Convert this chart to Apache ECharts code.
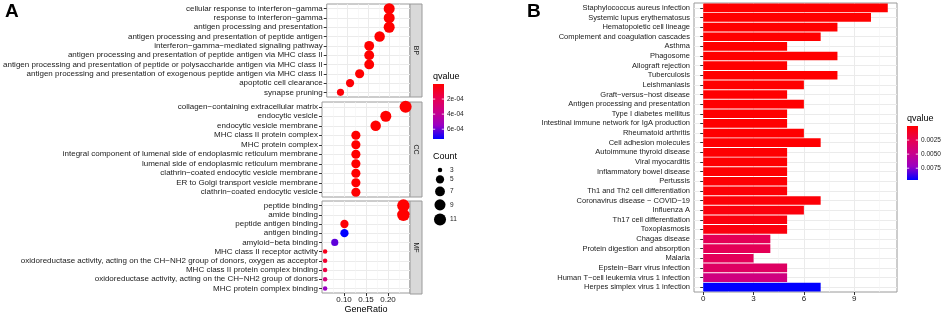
<!DOCTYPE html>
<html><head><meta charset="utf-8">
<script src="https://cdn.jsdelivr.net/npm/echarts@6/dist/echarts.min.js"></script>
<style>html,body{margin:0;padding:0;background:#fff}#c{width:941px;height:315px}</style>
</head><body><div id="c"></div>
<script>
const FONT = "'Liberation Sans', Arial, sans-serif";

// ---------- Panel A: GO enrichment dot plot ----------
const bpTerms = ['cellular response to interferon−gamma','response to interferon−gamma','antigen processing and presentation','antigen processing and presentation of peptide antigen','interferon−gamma−mediated signaling pathway','antigen processing and presentation of peptide antigen via MHC class II','antigen processing and presentation of peptide or polysaccharide antigen via MHC class II','antigen processing and presentation of exogenous peptide antigen via MHC class II','apoptotic cell clearance','synapse pruning'];
const bpRatio = [0.200,0.200,0.200,0.177,0.152,0.152,0.152,0.129,0.106,0.083];
const bpCount = [9,9,9,8,7,7,7,6,5,4];
const bpQ = [3.2e-9,5.1e-9,1.4e-8,2.6e-8,4.3e-7,4.3e-7,4.3e-7,2.1e-6,1.5e-5,1.9e-5];

const ccTerms = ['collagen−containing extracellular matrix','endocytic vesicle','endocytic vesicle membrane','MHC class II protein complex','MHC protein complex','integral component of lumenal side of endoplasmic reticulum membrane','lumenal side of endoplasmic reticulum membrane','clathrin−coated endocytic vesicle membrane','ER to Golgi transport vesicle membrane','clathrin−coated endocytic vesicle'];
const ccRatio = [0.240,0.195,0.172,0.127,0.127,0.127,0.127,0.127,0.127,0.127];
const ccCount = [11,9,8,6,6,6,6,6,6,6];
const ccQ = [1.2e-7,8.0e-9,2.3e-7,1.1e-8,1.1e-8,1.6e-8,1.6e-8,3.0e-6,3.5e-6,3.0e-6];

const mfTerms = ['peptide binding','amide binding','peptide antigen binding','antigen binding','amyloid−beta binding','MHC class II receptor activity','oxidoreductase activity, acting on the CH−NH2 group of donors, oxygen as acceptor','MHC class II protein complex binding','oxidoreductase activity, acting on the CH−NH2 group of donors','MHC protein complex binding'];
const mfRatio = [0.235,0.235,0.101,0.101,0.079,0.057,0.057,0.057,0.057,0.057];
const mfCount = [12,12,5,5,4,3,3,3,3,3];
const mfQ = [1.6e-9,2.0e-9,2.0e-5,7.3e-4,6.2e-4,6.0e-5,1.1e-4,1.5e-4,3.1e-4,5.5e-4];

const facetLabels = ['BP','CC','MF'];
const ratioTicks = [0.10,0.15,0.20];
const qTicksA = [2e-4,4e-4,6e-4];
const qTickLabelsA = ['2e-04','4e-04','6e-04'];
const countBreaks = [3,5,7,9,11];

// ---------- Panel B: KEGG bar chart ----------
const keggTerms = ['Staphylococcus aureus infection','Systemic lupus erythematosus','Hematopoietic cell lineage','Complement and coagulation cascades','Asthma','Phagosome','Allograft rejection','Tuberculosis','Leishmaniasis','Graft−versus−host disease','Antigen processing and presentation','Type I diabetes mellitus','Intestinal immune network for IgA production','Rheumatoid arthritis','Cell adhesion molecules','Autoimmune thyroid disease','Viral myocarditis','Inflammatory bowel disease','Pertussis','Th1 and Th2 cell differentiation','Coronavirus disease − COVID−19','Influenza A','Th17 cell differentiation','Toxoplasmosis','Chagas disease','Protein digestion and absorption','Malaria','Epstein−Barr virus infection','Human T−cell leukemia virus 1 infection','Herpes simplex virus 1 infection'];
const keggCount = [11,10,8,7,5,8,5,8,6,5,6,5,5,6,7,5,5,5,5,5,7,6,5,5,4,4,3,5,5,7];
const keggQ = [2.0e-9,1.1e-7,3.4e-7,2.1e-6,2.3e-6,4.5e-6,9.0e-6,9.8e-6,1.5e-5,1.6e-5,2.6e-5,2.6e-5,3.1e-5,4.0e-5,4.7e-5,5.3e-5,6.2e-5,8.1e-5,1.2e-4,1.9e-4,2.1e-4,3.5e-4,4.0e-4,4.4e-4,2.7e-3,2.7e-3,2.8e-3,3.2e-3,4.4e-3,9.6e-3];
const countTicks = [0,3,6,9];
const countMinor = [1.5,4.5,7.5,10.5];
const qTicksB = [0.0025,0.0050,0.0075];
const qTickLabelsB = ['0.0025','0.0050','0.0075'];

// ---------- styling / layout ----------
const RAMP = ['#FF0000','#E8004F','#CA0089','#9A00C2','#0000FF'];
const TXT = '#1a1a1a';
const BORDER = '#9a9a9a';
const GRIDC = '#EBEBEB';
const MINORC = '#F3F3F3';
const A_LEFT = 322, A_W = 88;
const A_TOPS = [4,102,201], A_HS = [93,95,93];
const B_LEFT = 694, B_TOP = 3, B_W = 203, B_H = 289;

const qMinA = 0, qMaxA = Math.max(...bpQ, ...ccQ, ...mfQ);
const qMinB = 0, qMaxB = Math.max(...keggQ);
const cMin = 3, cMax = 12;
function sz(c){ return 4.5 + 8*Math.sqrt(Math.max(0,(c-cMin)/(cMax-cMin))); }

const facets = [
  {terms: bpTerms, ratio: bpRatio, count: bpCount, q: bpQ},
  {terms: ccTerms, ratio: ccRatio, count: ccCount, q: ccQ},
  {terms: mfTerms, ratio: mfRatio, count: mfCount, q: mfQ}
];

const grids = [], xAxes = [], yAxes = [], series = [];
facets.forEach((f, i) => {
  grids.push({left: A_LEFT, top: A_TOPS[i], width: A_W, height: A_HS[i], show: true, borderColor: BORDER, borderWidth: 1, backgroundColor: '#fff'});
  const bottom = i === 2;
  xAxes.push({
    gridIndex: i, type: 'value', min: 0.05, max: 0.25, interval: 0.05,
    axisLine: {show: false},
    axisTick: {show: bottom, customValues: ratioTicks, length: 3, lineStyle: {color: '#333'}},
    axisLabel: {show: bottom, customValues: ratioTicks, formatter: v => v.toFixed(2), fontSize: 8, color: TXT, margin: 3, fontFamily: FONT},
    splitLine: {show: true, lineStyle: {color: GRIDC, width: 1}},
    minorTick: {show: false, splitNumber: 2},
    minorSplitLine: {show: true, lineStyle: {color: MINORC, width: 0.6}},
    name: bottom ? 'GeneRatio' : '', nameLocation: 'middle', nameGap: 12,
    nameTextStyle: {fontSize: 9, color: '#000', fontFamily: FONT}
  });
  yAxes.push({
    gridIndex: i, type: 'category', data: f.terms, inverse: true,
    axisLine: {show: false},
    axisTick: {show: true, alignWithLabel: true, interval: 0, length: 3, lineStyle: {color: '#333'}},
    axisLabel: {interval: 0, fontSize: 8, color: TXT, margin: 4, fontFamily: FONT},
    splitLine: {show: true, interval: 0, alignWithLabel: true, lineStyle: {color: GRIDC, width: 1}}
  });
  series.push({
    type: 'scatter', xAxisIndex: i, yAxisIndex: i,
    data: f.terms.map((t, k) => [f.ratio[k], t, f.count[k], f.q[k]]),
    encode: {x: 0, y: 1},
    symbolSize: v => sz(v[2]),
    itemStyle: {opacity: 1},
    clip: true
  });
});

// Panel B
grids.push({left: B_LEFT, top: B_TOP, width: B_W, height: B_H, show: true, borderColor: BORDER, borderWidth: 1, backgroundColor: '#fff'});
xAxes.push({
  gridIndex: 3, type: 'value', min: -0.55, max: 11.55,
  axisLine: {show: false},
  axisTick: {show: true, customValues: countTicks, length: 3, lineStyle: {color: '#333'}},
  axisLabel: {show: true, customValues: countTicks, fontSize: 8, color: TXT, margin: 3, fontFamily: FONT},
  splitLine: {show: true, lineStyle: {color: GRIDC, width: 1}}
});
xAxes.push({
  gridIndex: 3, type: 'value', min: -0.55, max: 11.55, position: 'top',
  axisLine: {show: false},
  axisTick: {show: false, customValues: countMinor},
  axisLabel: {show: false, customValues: countMinor},
  splitLine: {show: true, lineStyle: {color: MINORC, width: 0.6}}
});
yAxes.push({
  gridIndex: 3, type: 'category', data: keggTerms, inverse: true,
  axisLine: {show: false},
  axisTick: {show: true, alignWithLabel: true, interval: 0, length: 3, lineStyle: {color: '#333'}},
  axisLabel: {interval: 0, fontSize: 7.5, color: TXT, margin: 4, fontFamily: FONT},
  splitLine: {show: true, interval: 0, alignWithLabel: true, lineStyle: {color: GRIDC, width: 1}}
});
series.push({
  type: 'bar', xAxisIndex: 3, yAxisIndex: 3,
  data: keggTerms.map((t, k) => [keggCount[k], t, keggQ[k]]),
  encode: {x: 0, y: 1},
  barCategoryGap: '10%'
});

// ---------- legends & decorations (graphic) ----------
const graphic = [];
graphic.push({type: 'text', left: 5, top: 2, style: {text: 'A', font: 'bold 19px ' + FONT, fill: '#000'}});
graphic.push({type: 'text', left: 527, top: 2, style: {text: 'B', font: 'bold 19px ' + FONT, fill: '#000'}});
// facet strips
facetLabels.forEach((lab, i) => {
  graphic.push({type: 'rect', shape: {x: A_LEFT + A_W, y: A_TOPS[i], width: 12, height: A_HS[i]},
    style: {fill: '#D9D9D9', stroke: BORDER, lineWidth: 1}});
  graphic.push({type: 'text', x: A_LEFT + A_W + 6, y: A_TOPS[i] + A_HS[i]/2, rotation: -Math.PI/2,
    style: {text: lab, font: '7px ' + FONT, fill: '#1a1a1a', align: 'center', verticalAlign: 'middle'}});
});
function gradLegend(x, y, h, title, qMin, qMax, ticks, labels) {
  graphic.push({type: 'text', x: x, y: y - 7, style: {text: title, font: '9px ' + FONT, fill: '#000', verticalAlign: 'middle'}});
  graphic.push({type: 'rect', shape: {x: x, y: y, width: 11, height: h},
    style: {fill: new echarts.graphic.LinearGradient(0, 0, 0, 1, RAMP.map((c, k) => ({offset: k/(RAMP.length-1), color: c})))}});
  ticks.forEach((v, k) => {
    const ty = y + (v - qMin)/(qMax - qMin)*h;
    graphic.push({type: 'line', shape: {x1: x, y1: ty, x2: x + 2.2, y2: ty}, style: {stroke: '#fff', lineWidth: 0.8}});
    graphic.push({type: 'line', shape: {x1: x + 8.8, y1: ty, x2: x + 11, y2: ty}, style: {stroke: '#fff', lineWidth: 0.8}});
    graphic.push({type: 'text', x: x + 14, y: ty, style: {text: labels[k], font: '6.5px ' + FONT, fill: TXT, verticalAlign: 'middle'}});
  });
}
gradLegend(433, 84, 55, 'qvalue', qMinA, qMaxA, qTicksA, qTickLabelsA);
gradLegend(907, 126, 54, 'qvalue', qMinB, qMaxB, qTicksB, qTickLabelsB);
// size legend
graphic.push({type: 'text', x: 433, y: 157, style: {text: 'Count', font: '9px ' + FONT, fill: '#000', verticalAlign: 'middle'}});
let cy = 170;
countBreaks.forEach((c, k) => {
  if (k > 0) cy += (sz(countBreaks[k-1]) + sz(c))/2 + 3;
  graphic.push({type: 'circle', shape: {cx: 440, cy: cy, r: sz(c)/2}, style: {fill: '#000'}});
  graphic.push({type: 'text', x: 450, y: cy, style: {text: String(c), font: '6.5px ' + FONT, fill: TXT, verticalAlign: 'middle'}});
});

const chart = echarts.init(document.getElementById('c'), null, {renderer: 'canvas'});
chart.setOption({
  animation: false,
  textStyle: {fontFamily: FONT},
  grid: grids, xAxis: xAxes, yAxis: yAxes, series: series,
  visualMap: [
    {type: 'continuous', show: false, seriesIndex: [0,1,2], dimension: 3, min: qMinA, max: qMaxA, inRange: {color: RAMP}},
    {type: 'continuous', show: false, seriesIndex: 3, dimension: 2, min: qMinB, max: qMaxB, inRange: {color: RAMP}}
  ],
  graphic: graphic
});
</script></body></html>
